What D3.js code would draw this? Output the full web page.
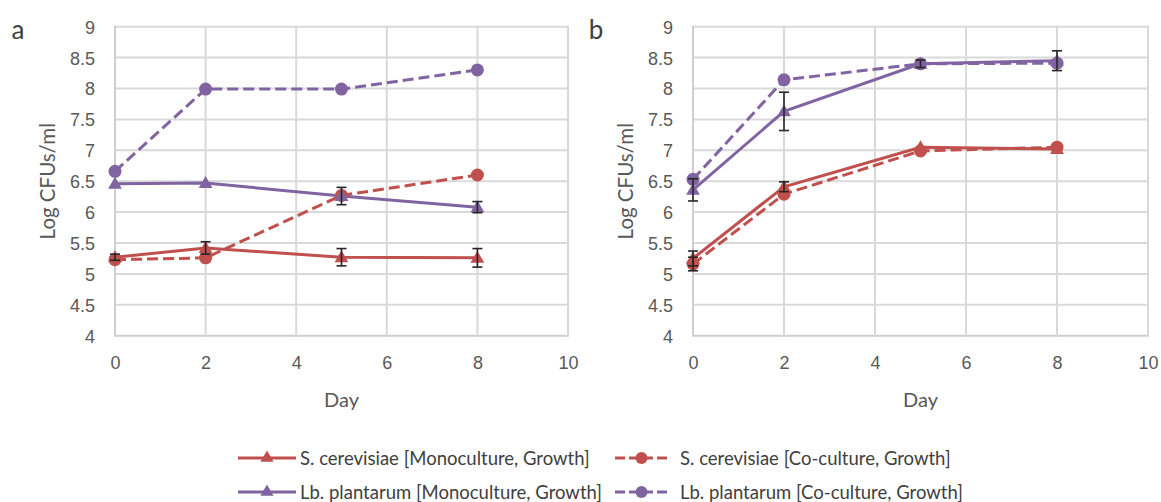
<!DOCTYPE html>
<html><head><meta charset="utf-8">
<script src="https://cdn.jsdelivr.net/npm/d3@7"></script>
<style>
html,body{margin:0;padding:0;background:#fff;}
svg{display:block;font-family:Lato,"Open Sans",sans-serif;}
</style></head>
<body>
<svg id="chart" width="1161" height="502"></svg>
<script>
// ---- data ----
const days = [0, 2, 5, 8];
const xTicks = [0, 2, 4, 6, 8, 10];
const yTicks = [4, 4.5, 5, 5.5, 6, 6.5, 7, 7.5, 8, 8.5, 9];
const seriesNames = [
  "S. cerevisiae [Monoculture, Growth]",
  "S. cerevisiae [Co-culture, Growth]",
  "Lb. plantarum [Monoculture, Growth]",
  "Lb. plantarum [Co-culture, Growth]"
];
// panel a
const aScMono = [5.27, 5.42, 5.27, 5.26];
const aScMonoErr = [0.05, 0.10, 0.14, 0.15];
const aScCo = [5.23, 5.26, 6.27, 6.60];
const aScCoErr = [0.03, 0.03, 0.04, 0.03];
const aLbMono = [6.46, 6.47, 6.26, 6.08];
const aLbMonoErr = [0.02, 0.02, 0.14, 0.09];
const aLbCo = [6.66, 7.99, 7.99, 8.30];
const aLbCoErr = [0.03, 0.03, 0.03, 0.03];
// panel b
const bScMono = [5.25, 6.41, 7.05, 7.02];
const bScMonoErr = [0.12, 0.08, 0.04, 0.04];
const bScCo = [5.16, 6.29, 6.99, 7.05];
const bScCoErr = [0.11, 0.03, 0.03, 0.03];
const bLbMono = [6.36, 7.63, 8.40, 8.45];
const bLbMonoErr = [0.18, 0.31, 0.06, 0.16];
const bLbCo = [6.53, 8.14, 8.40, 8.41];
const bLbCoErr = [0.03, 0.04, 0.04, 0.03];

const RED = "#C0504D", PURPLE = "#8064A2";
const styles = [
  {color: RED, dash: null, marker: "tri"},
  {color: RED, dash: "11,5", marker: "circ"},
  {color: PURPLE, dash: null, marker: "tri"},
  {color: PURPLE, dash: "11,5", marker: "circ"}
];

const panels = [
  {label: "a", x0: 115, x1: 568, series: [[aScMono, aScMonoErr],[aScCo, aScCoErr],[aLbMono, aLbMonoErr],[aLbCo, aLbCoErr]]},
  {label: "b", x0: 693, x1: 1148, series: [[bScMono, bScMonoErr],[bScCo, bScCoErr],[bLbMono, bLbMonoErr],[bLbCo, bLbCoErr]]}
];

const svg = d3.select("#chart");
const yTop = 26.7, yBot = 335.7;
const GRID = "#D9D9D9", TXT = "#595959";
const triSym = d3.symbol().type(d3.symbolTriangle).size(82);

function marker(g, type, color, x, y) {
  if (type === "tri") {
    g.append("path").attr("d", triSym()).attr("transform", `translate(${x},${y+1})`).attr("fill", color);
  } else {
    g.append("circle").attr("cx", x).attr("cy", y).attr("r", 6.5).attr("fill", color);
  }
}

panels.forEach(p => {
  const x = d3.scaleLinear().domain([0, 10]).range([p.x0, p.x1]);
  const y = d3.scaleLinear().domain([4, 9]).range([yBot, yTop]);
  const g = svg.append("g");

  // grid
  g.append("g").selectAll("line").data(yTicks).join("line")
    .attr("x1", p.x0).attr("x2", p.x1).attr("y1", d => y(d)).attr("y2", d => y(d))
    .attr("stroke", d => d === 4 ? "#CFCFCF" : GRID).attr("stroke-width", 2);
  g.append("g").selectAll("line").data(xTicks).join("line")
    .attr("x1", d => x(d)).attr("x2", d => x(d)).attr("y1", yTop - 1).attr("y2", yBot + 1)
    .attr("stroke", d => d === 0 ? "#CFCFCF" : GRID).attr("stroke-width", 2);

  // axes (tick labels)
  const yAxis = g.append("g").attr("transform", `translate(${p.x0},0)`)
    .call(d3.axisLeft(y).tickValues(yTicks).tickSize(0).tickPadding(20).tickFormat(d3.format("")));
  yAxis.select(".domain").remove();
  yAxis.selectAll("text").attr("fill", TXT).style("font-size", "18px").attr("dy", "0.36em");
  const xAxis = g.append("g").attr("transform", `translate(0,${yBot})`)
    .call(d3.axisBottom(x).tickValues(xTicks).tickSize(0).tickPadding(0).tickFormat(d3.format("")));
  xAxis.select(".domain").remove();
  xAxis.selectAll("text").attr("fill", TXT).style("font-size", "18px").attr("y", 27).attr("dy", "0.36em");

  // axis titles
  g.append("text").attr("x", (p.x0 + p.x1) / 2).attr("y", 400).attr("dy", "0.36em").attr("text-anchor", "middle")
    .attr("fill", TXT).style("font-size", "20px").text("Day");
  g.append("text").attr("transform", `translate(${p.x0 - 67},${(yTop + yBot) / 2}) rotate(-90)`)
    .attr("text-anchor", "middle").attr("dy", "0.36em").attr("fill", TXT).style("font-size", "20.5px").text("Log CFUs/ml");
  g.append("text").attr("x", p.x0 - 97).attr("y", 30).attr("dy", "0.36em").attr("text-anchor", "middle")
    .attr("fill", "#404040").style("font-size", "26px").text(p.label);

  const line = d3.line().x((d, i) => x(days[i])).y(d => y(d));
  p.series.forEach((s, si) => {
    const st = styles[si];
    g.append("path").datum(s[0]).attr("d", line).attr("fill", "none")
      .attr("stroke", st.color).attr("stroke-width", 3)
      .attr("stroke-dasharray", st.dash);
  });
  p.series.forEach((s, si) => {
    const st = styles[si];
    s[0].forEach((v, i) => marker(g, st.marker, st.color, x(days[i]), y(v)));
  });
  // error bars
  p.series.forEach((s, si) => {
    s[0].forEach((v, i) => {
      const e = s[1][i];
      if (e < 0.05) return;
      const cx = x(days[i]);
      const eg = g.append("g").attr("stroke", "#262626").attr("stroke-width", 1.6);
      eg.append("line").attr("x1", cx).attr("x2", cx).attr("y1", y(v - e)).attr("y2", y(v + e));
      eg.append("line").attr("x1", cx - 5).attr("x2", cx + 5).attr("y1", y(v - e)).attr("y2", y(v - e));
      eg.append("line").attr("x1", cx - 5).attr("x2", cx + 5).attr("y1", y(v + e)).attr("y2", y(v + e));
    });
  });
});

// legend
const legendPos = [
  {lx0: 238, lx1: 296, tx: 300, y: 458},
  {lx0: 615, lx1: 668, tx: 680, y: 458},
  {lx0: 238, lx1: 296, tx: 300, y: 492},
  {lx0: 615, lx1: 668, tx: 680, y: 492}
];
const lg = svg.append("g");
seriesNames.forEach((name, i) => {
  const st = styles[i], lp = legendPos[i];
  lg.append("line").attr("x1", lp.lx0).attr("x2", lp.lx1).attr("y1", lp.y).attr("y2", lp.y)
    .attr("stroke", st.color).attr("stroke-width", 3).attr("stroke-dasharray", st.dash ? "10,4" : null);
  const mx = (lp.lx0 + lp.lx1) / 2;
  if (st.marker === "tri") {
    lg.append("path").attr("d", d3.symbol().type(d3.symbolTriangle).size(75)()).attr("transform", `translate(${mx},${lp.y})`).attr("fill", st.color);
  } else {
    lg.append("circle").attr("cx", mx).attr("cy", lp.y).attr("r", 6).attr("fill", st.color);
  }
  lg.append("text").attr("x", lp.tx).attr("y", lp.y).attr("dy", "0.36em").attr("fill", "#404040")
    .style("font-size", "18.5px").text(name);
});
</script>
</body></html>
